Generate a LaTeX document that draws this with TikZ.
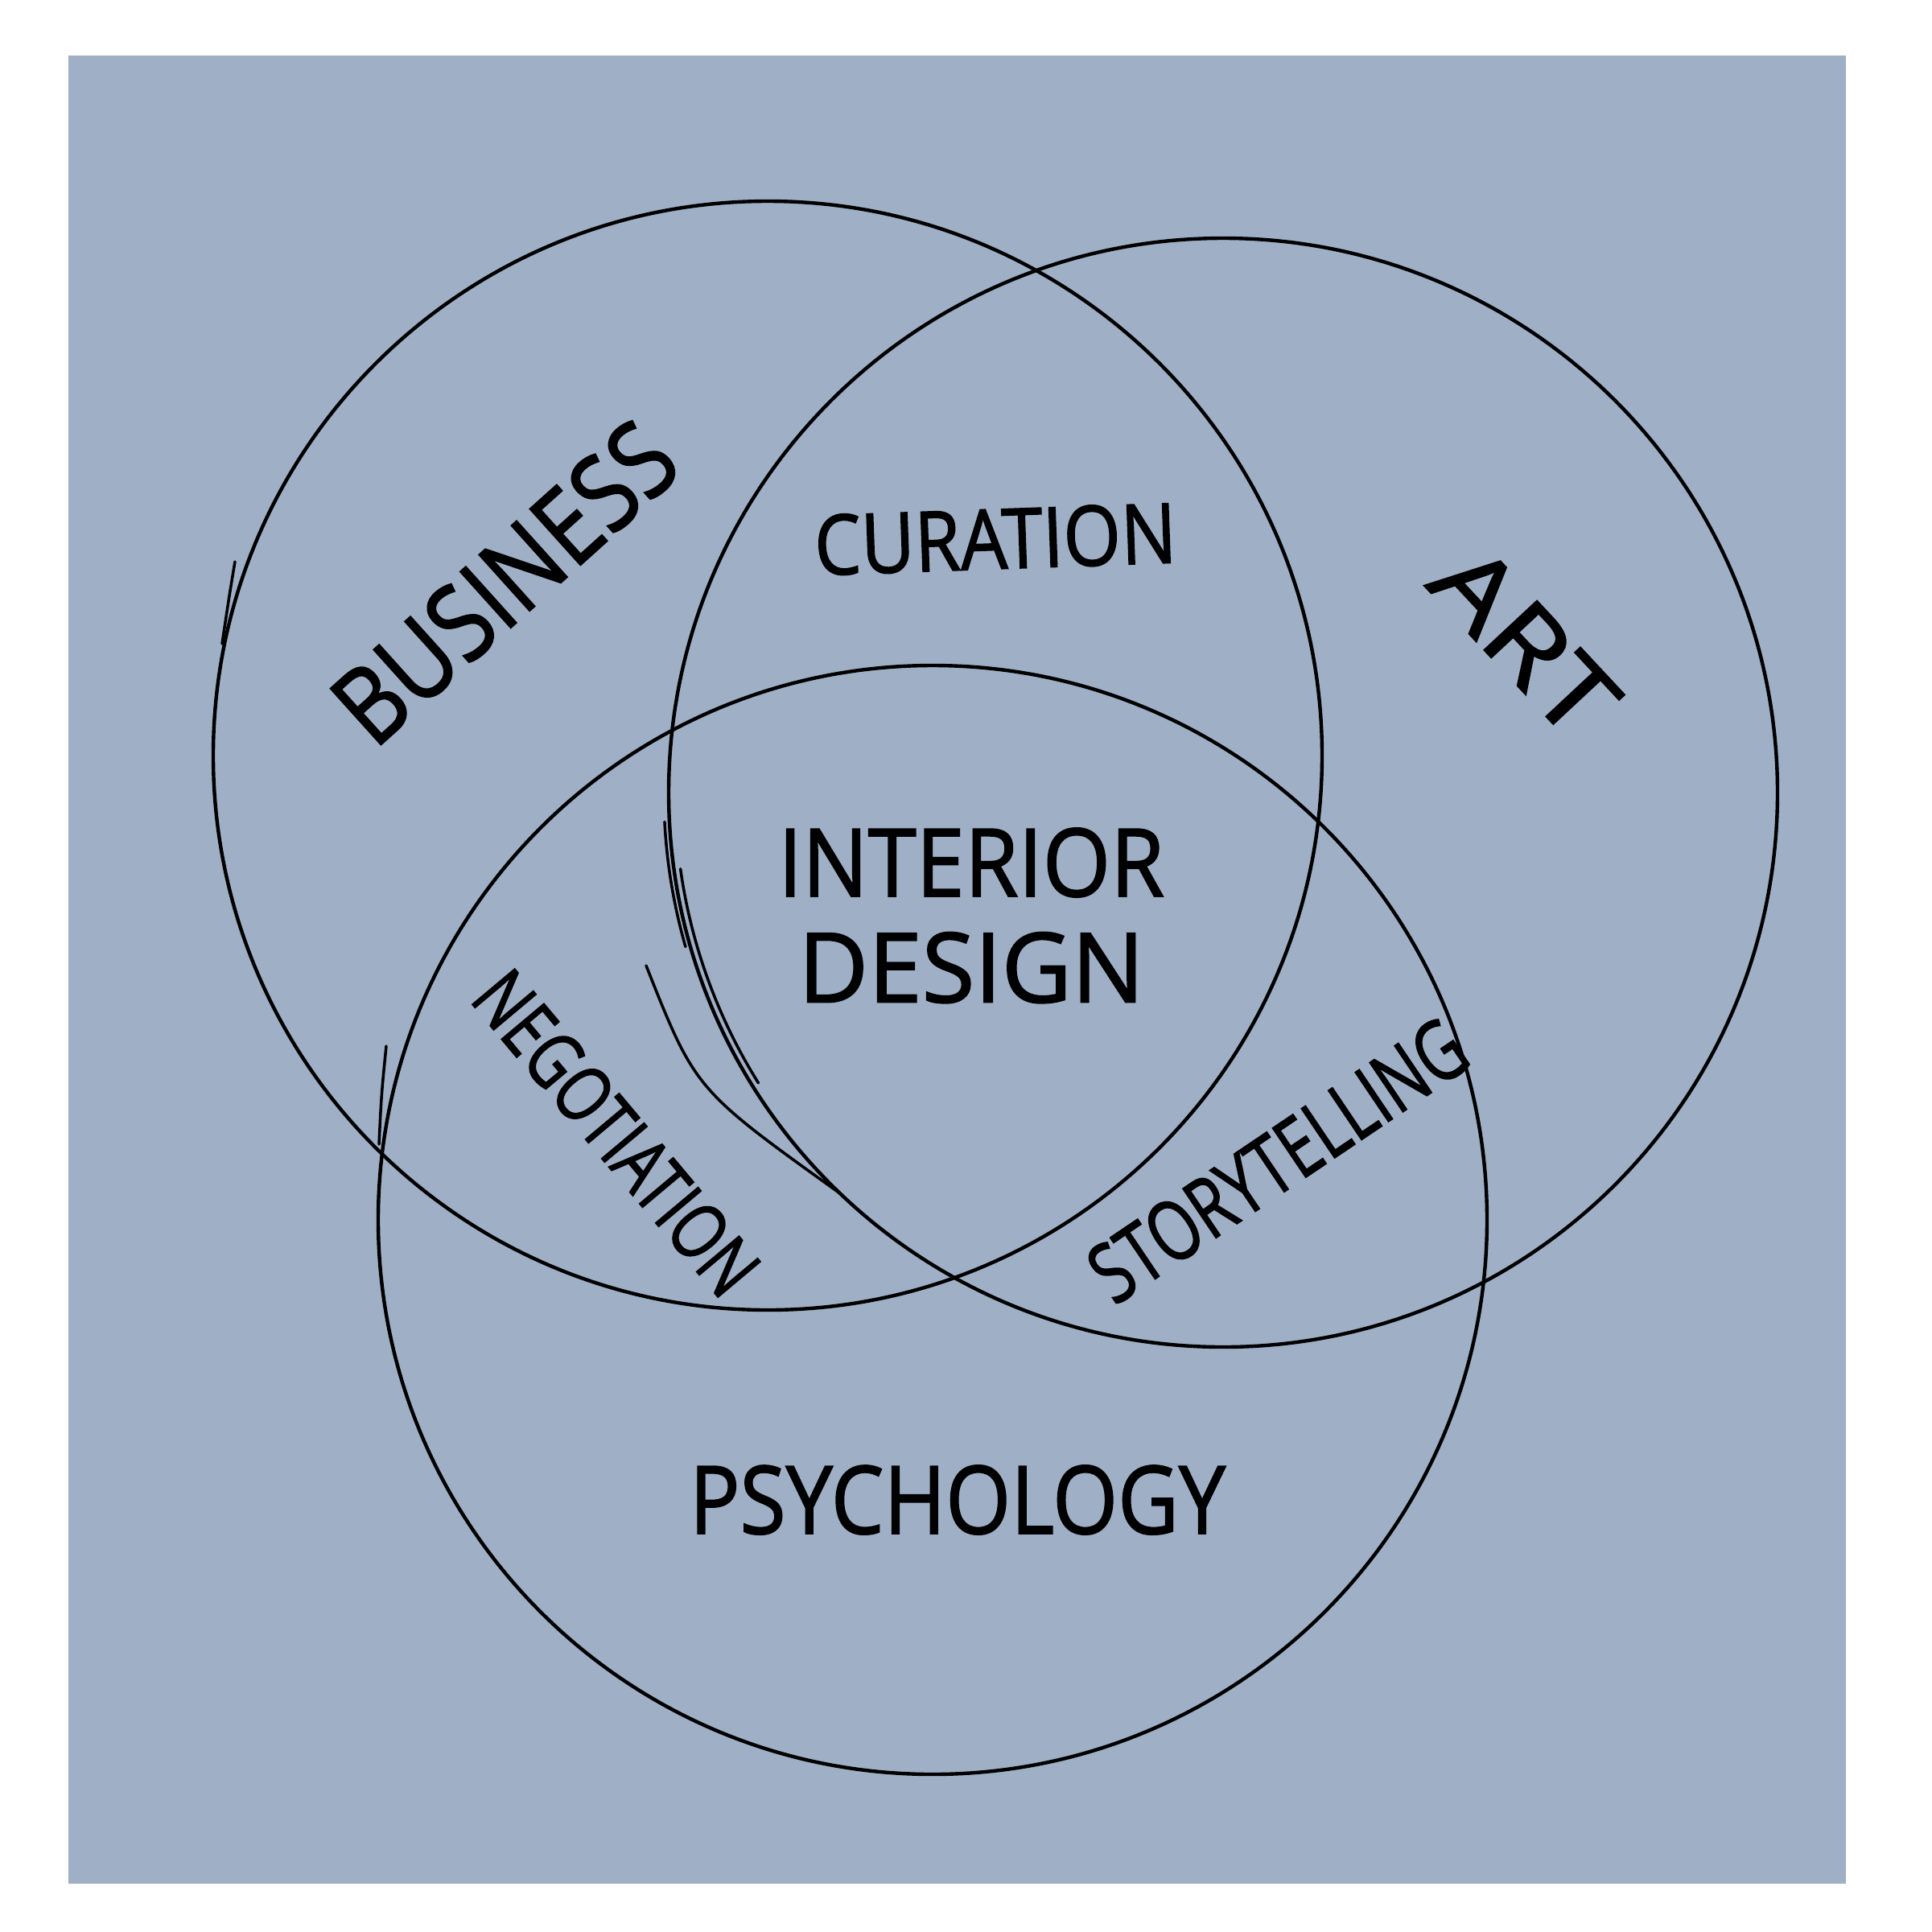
\documentclass[tikz,border=0pt]{standalone}
\usepackage{fontspec}
\usepackage{graphicx}
\newfontfamily\handfont{Open Sans}[FakeBold=1.6]
\usetikzlibrary{positioning}
\definecolor{napkinblue}{RGB}{158,175,198}

\begin{document}
\begin{tikzpicture}[
    ring/.style={circle, draw=black, line width=1.25pt, minimum size=13.78cm, inner sep=0pt},
    word/.style={font=\handfont, inner sep=0pt, text=black},
    sketch/.style={draw=black, line width=1pt, line cap=round},
]
\useasboundingbox (0,0) rectangle (24.01,-24.01);
\fill[napkinblue] (0.85,-0.69) rectangle (22.94,-23.41);

% the three sets
\node[ring] (business) at (9.54,-9.39) {};
\node[ring] (art) at (15.20,-9.85) {};
\node[ring] (psych) at (11.59,-15.16) {};

% stray pen strokes
\draw[sketch] (2.92,-6.98) .. controls (2.85,-7.4) .. (2.76,-8.0);
\draw[sketch] (4.80,-13.00) .. controls (4.74,-13.6) .. (4.71,-14.22);
\draw[sketch] ([shift={(183:6.95)}]art.center) arc[start angle=183, end angle=196, radius=6.95];
\draw[sketch] ([shift={(188:6.81)}]art.center) arc[start angle=188, end angle=212, radius=6.81];
\draw[sketch] (8.03,-12.00) .. controls (8.64,-13.54) .. (10.41,-14.81);

% labels
\node[word, rotate=42] (busword) at (6.27,-7.24) {\resizebox{5.2cm}{0.95cm}{BUSINESS}};
\node[word, rotate=2] (curation) at (12.37,-6.70) {\resizebox{4.5cm}{0.75cm}{CURATION}};
\node[word, rotate=-47] (artword) at (18.95,-7.96) {\resizebox{2.7cm}{0.9cm}{ART}};
\node[word] (interior) at (12.07,-10.72) {\resizebox{4.8cm}{0.85cm}{INTERIOR}};
\node[word, below=0.42cm of interior] (design) {\resizebox{4.3cm}{0.87cm}{DESIGN}};
\node[word, rotate=-50] (negotiation) at (7.66,-14.08) {\resizebox{4.9cm}{0.7cm}{NEGOTIATION}};
\node[word, rotate=34] (story) at (15.88,-14.42) {\resizebox{5.4cm}{0.75cm}{STORYTELLING}};
\node[word] (psychword) at (11.90,-18.64) {\resizebox{6.66cm}{0.85cm}{PSYCHOLOGY}};
\end{tikzpicture}
\end{document}
